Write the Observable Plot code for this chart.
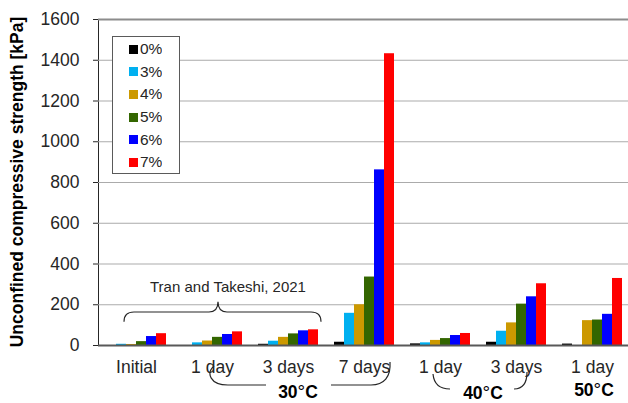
<!DOCTYPE html>
<html><head><meta charset="utf-8">
<script src="https://cdn.jsdelivr.net/npm/d3@7"></script>
<script src="https://cdn.jsdelivr.net/npm/@observablehq/plot@0.6"></script>
<style>
body{margin:0;background:#fff;}
#wrap{position:relative;width:628px;height:403px;overflow:hidden;font-family:"Liberation Sans",Arial,sans-serif;}
#legend{position:absolute;left:112px;top:36px;width:68px;height:138px;box-sizing:border-box;border:1.3px solid #5a5a5a;background:#fff;padding:1px 0 0 16px;}
#legend .lg-swatches{margin:0 !important;min-height:0 !important;font:15.5px "Liberation Sans",Arial,sans-serif;color:#262626;}
#legend .lg-swatch{height:22.6px;display:flex;align-items:center;padding:0 !important;margin:0 !important;}
#legend .lg-swatch svg{margin-right:2px !important;}
</style>
</head><body><div id="wrap"></div>
<script>
// ---- data ----
const groupIds = ["Initial", "30C-1d", "30C-3d", "30C-7d", "40C-1d", "40C-3d", "50C-1d"];
const groupLabels = ["Initial", "1 day", "3 days", "7 days", "1 day", "3 days", "1 day"];
const seriesNames = ["0%", "3%", "4%", "5%", "6%", "7%"];
const seriesColors = ["#000000", "#00B0F0", "#CC9900", "#336600", "#0000FF", "#FF0000"];
const ucs0 = [null, null, 6, 16, 8, 16, 7];
const ucs3 = [6, 13, 21, 158, 13, 70, null];
const ucs4 = [5, 22, 40, 200, 25, 111, 122];
const ucs5 = [19, 40, 57, 336, 34, 203, 125];
const ucs6 = [44, 54, 72, 862, 49, 239, 153];
const ucs7 = [58, 67, 77, 1432, 59, 303, 329];
const yTicks = [0, 200, 400, 600, 800, 1000, 1200, 1400, 1600];
const yLabel = "Unconfined compressive strength [kPa]";
const sourceNote = "Tran and Takeshi, 2021";
const tempLabels = ["30", "40", "50"];

const seriesValues = [ucs0, ucs3, ucs4, ucs5, ucs6, ucs7];
const table = [];
groupIds.forEach((g, i) => seriesNames.forEach((s, j) => {
  const v = seriesValues[j][i];
  if (v != null) table.push({group: g, series: s, value: v});
}));

const chart = Plot.plot({
  width: 628, height: 403,
  marginTop: 19, marginBottom: 58, marginLeft: 96, marginRight: -3,
  style: {fontFamily: "Liberation Sans, Arial, sans-serif", fontSize: "17.5px", color: "#262626", background: "white"},
  fx: {domain: groupIds, padding: 0, axis: "bottom", label: null, tickSize: 0, tickPadding: 15,
       tickFormat: d => groupLabels[groupIds.indexOf(d)]},
  x: {domain: seriesNames, paddingInner: 0.05, paddingOuter: 0.775, axis: null},
  y: {domain: [0, 1600], ticks: yTicks, tickFormat: "d", tickSize: 5, tickPadding: 14, label: null, line: true},
  color: {domain: seriesNames, range: seriesColors},
  marks: [
    Plot.ruleY(yTicks.filter(t => t > 0 && t < 1600), {stroke: "#ababab", strokeWidth: 1}),
    Plot.ruleY([1600], {stroke: "#8c8c8c", strokeWidth: 2}),
    Plot.barY(table, {fx: "group", x: "series", y: "value", fill: "series"}),
    Plot.ruleY([0], {stroke: "#595959", strokeWidth: 2})
  ]
});

const wrap = document.getElementById("wrap");
wrap.appendChild(chart);

// annotations tied to scales
const fx = chart.scale("fx"), y = chart.scale("y");
const bw = fx.bandwidth != null ? fx.bandwidth : (fx.range[1] - fx.range[0]) / groupIds.length;
const c = groupIds.map(g => fx.apply(g) + bw / 2);
const y0 = y.apply(0), yTop = y.apply(1600);
const svg = d3.select(chart);

// y-axis title
svg.append("text")
  .attr("transform", `translate(18,${(y0 + yTop) / 2}) rotate(-90)`)
  .attr("text-anchor", "middle").attr("dominant-baseline", "middle")
  .style("font-size", "17.5px").attr("font-weight", "bold").attr("fill", "#000")
  .text(yLabel);

const ann = svg.append("g").attr("fill", "none").attr("stroke", "#262626").attr("stroke-width", 1.2);

// brace
const yE = y.apply(114), yH = y.apply(162), yT = y.apply(212);
const bx0 = c[0] - 12, bx1 = c[2] + 33, bt = c[1] + 6;
ann.append("path").attr("d",
  `M${bx0},${yE} Q${bx0},${yH} ${bx0 + 10},${yH} L${bt - 9},${yH} Q${bt},${yH} ${bt},${yT} ` +
  `M${bt},${yT} Q${bt},${yH} ${bt + 9},${yH} L${bx1 - 10},${yH} Q${bx1},${yH} ${bx1},${yE}`);

// 30C hooks
ann.append("path").attr("d",
  `M${c[1] + 2},${y0 + 21} C${c[1] - 6},${y0 + 28} ${c[1] - 2},${y0 + 40} ${c[1] + 16},${y0 + 40} L${c[2] - 22},${y0 + 40}`);
ann.append("path").attr("d",
  `M${c[2] + 43},${y0 + 40} L${c[3] + 7},${y0 + 40} C${c[3] + 20},${y0 + 40} ${c[3] + 27},${y0 + 32} ${c[3] + 26},${y0 + 17}`);
// 40C hooks
ann.append("path").attr("d",
  `M${c[4] - 7},${y0 + 29} C${c[4] - 6},${y0 + 40} ${c[4]},${y0 + 44} ${c[4] + 10},${y0 + 44}`);
ann.append("path").attr("d",
  `M${c[5] - 2},${y0 + 44} C${c[5] + 7},${y0 + 44} ${c[5] + 11},${y0 + 38} ${c[5] + 11},${y0 + 27}`);

// texts
svg.append("text").attr("x", c[1] + 16).attr("y", y.apply(258)).attr("text-anchor", "middle")
  .style("font-size", "15px").attr("fill", "#262626").text(sourceNote);

const tempPos = [[c[2] + 10, y0 + 53], [c[4] + 43, y0 + 54], [c[6] + 2, y0 + 51]];
tempLabels.forEach((t, i) => {
  const tx = svg.append("text").attr("x", tempPos[i][0]).attr("y", tempPos[i][1])
    .attr("text-anchor", "middle").attr("font-weight", "bold").style("font-size", "17.5px").attr("fill", "#000");
  tx.append("tspan").text(t);
  tx.append("tspan").style("font-size", "19px").attr("font-weight", "normal").text("°");
  tx.append("tspan").text("C");
});

// legend
const legendDiv = document.createElement("div");
legendDiv.id = "legend";
legendDiv.appendChild(Plot.legend({
  color: {domain: seriesNames, range: seriesColors},
  legend: "swatches", columns: 1, swatchSize: 9, className: "lg"
}));
wrap.appendChild(legendDiv);
</script>
</body></html>
